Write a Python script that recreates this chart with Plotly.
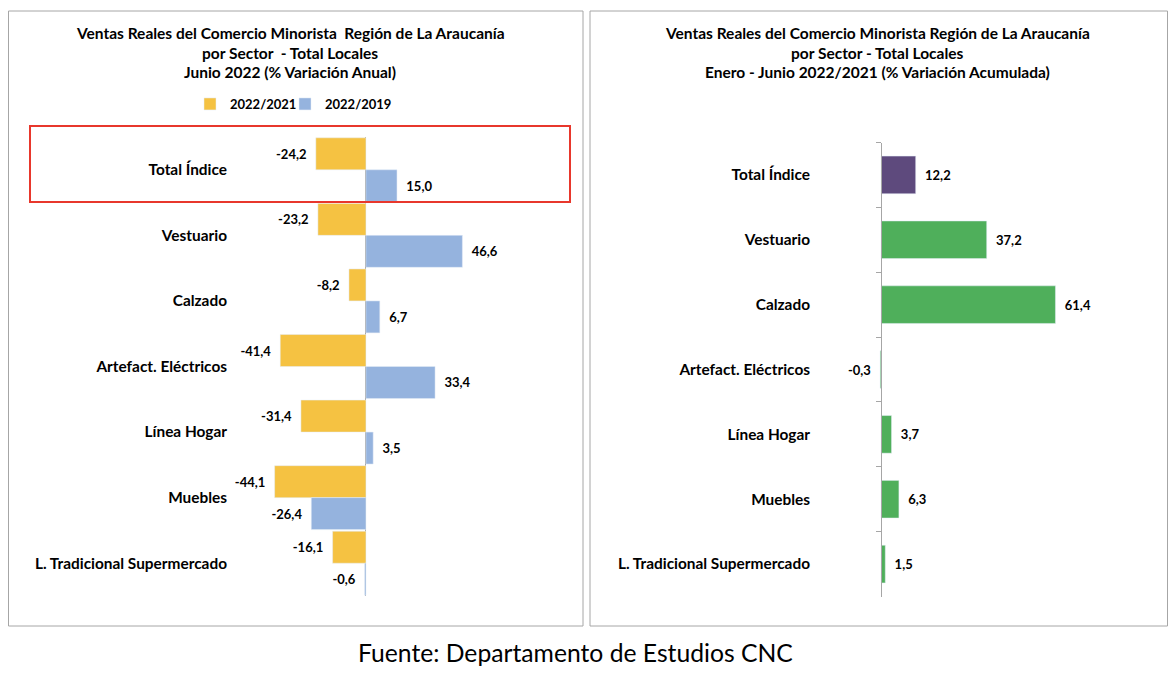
import plotly.graph_objects as go

sectores = ['Total Índice', 'Vestuario', 'Calzado', 'Artefact. Eléctricos',
            'Línea Hogar', 'Muebles', 'L. Tradicional Supermercado']

var_2022_2021 = [-24.2, -23.2, -8.2, -41.4, -31.4, -44.1, -16.1]
var_2022_2019 = [15.0, 46.6, 6.7, 33.4, 3.5, -26.4, -0.6]
acumulada = [12.2, 37.2, 61.4, -0.3, 3.7, 6.3, 1.5]
colores_acum = ['#5E4A7D'] + ['#4FAF5B'] * 6

titulo_izq = ['Ventas Reales del Comercio Minorista  Región de La Araucanía',
              'por Sector  - Total Locales',
              'Junio 2022 (% Variación Anual)']
titulo_der = ['Ventas Reales del Comercio Minorista Región de La Araucanía',
              'por Sector - Total Locales',
              'Enero - Junio 2022/2021 (% Variación Acumulada)']
fuente = 'Fuente: Departamento de Estudios CNC'

FONT = 'Lato'
# the page body has an 8px margin, so the figure is 16px smaller than the window
OFF = 8
W, H = 1176 - 2 * OFF, 682 - 2 * OFF


def fx(px):
    return (px - OFF) / W


def fy(py):
    return 1 - (py - OFF) / H


lbl_font = dict(family=FONT, size=13, color='black')
pad = '\u00a0\u00a0'
tmpl = '<b>' + pad + '%{x:.1f}' + pad + '</b>'

fig = go.Figure()

fig.add_trace(go.Bar(
    y=sectores, x=var_2022_2021, orientation='h', name='<b>2022/2021</b>',
    marker_color='#F5C242', texttemplate=tmpl, textposition='outside',
    textfont=lbl_font, cliponaxis=False, xaxis='x', yaxis='y', legend='legend'))
fig.add_trace(go.Bar(
    y=sectores, x=var_2022_2019, orientation='h', name='<b>2022/2019</b>',
    marker_color='#95B3DE', texttemplate=tmpl, textposition='outside',
    textfont=lbl_font, cliponaxis=False, xaxis='x', yaxis='y', legend='legend2'))

fig.add_trace(go.Bar(
    y=sectores, x=acumulada, orientation='h', width=0.58, showlegend=False,
    marker_color=colores_acum, texttemplate=tmpl, textposition='outside',
    textfont=lbl_font, cliponaxis=False, xaxis='x2', yaxis='y2'))

# dummy trace so the zero axis with boundary ticks gets drawn on the right chart
fig.add_trace(go.Scatter(
    y=sectores, x=[0] * len(sectores), mode='markers', marker_opacity=0,
    hoverinfo='skip', showlegend=False, xaxis='x2', yaxis='y3'))

cat_axis = dict(type='category', categoryorder='array', categoryarray=sectores,
                range=[6.5, -0.5], showgrid=False, showline=False, ticks='',
                tickfont=dict(family=FONT, size=15.4, color='black', weight='bold'))

leg = dict(orientation='h', xanchor='left', y=fy(104), yanchor='middle',
           font=dict(family=FONT, size=13, color='black'),
           itemwidth=30, bgcolor='rgba(0,0,0,0)')

fig.update_layout(
    width=W, height=H,
    margin=dict(l=0, r=0, t=0, b=0),
    paper_bgcolor='white', plot_bgcolor='white',
    separators=',.',
    barmode='group', bargap=0.025, bargroupgap=0,
    font=dict(family=FONT, color='black'),
    xaxis=dict(domain=[fx(232), fx(575)], range=[-64.7, 101.0],
               showgrid=False, showticklabels=False, ticks='', showline=False,
               zeroline=True, zerolinecolor='#A6A6A6', zerolinewidth=1),
    yaxis=dict(domain=[fy(596), fy(137)], anchor='x',
               ticklabelstandoff=4, **cat_axis),
    xaxis2=dict(domain=[fx(815), fx(1162)], range=[-23.24, 98.9], anchor='y2',
                showgrid=False, showticklabels=False, ticks='', showline=False,
                zeroline=False),
    yaxis2=dict(domain=[fy(596.5), fy(142.5)], anchor='x2',
                ticklabelstandoff=4, **cat_axis),
    yaxis3=dict(type='category', categoryorder='array', categoryarray=sectores,
                range=[6.5, -0.5], overlaying='y2', anchor='free',
                position=fx(881), side='left', showgrid=False,
                showline=True, linecolor='#A6A6A6', linewidth=1,
                ticks='outside', tickson='boundaries', ticklen=5, tickwidth=1,
                tickcolor='#A6A6A6', showticklabels=False),
    legend=dict(x=fx(190), **leg),
    legend2=dict(x=fx(285), **leg),
)

# panel frames and highlight box
shapes = [
    dict(type='rect', xref='paper', yref='paper', x0=fx(8.5), x1=fx(583),
         y0=fy(626), y1=fy(11), line=dict(color='#A6A6A6', width=1)),
    dict(type='rect', xref='paper', yref='paper', x0=fx(590), x1=fx(1167.5),
         y0=fy(626), y1=fy(11), line=dict(color='#A6A6A6', width=1)),
    dict(type='rect', xref='paper', yref='paper', x0=fx(30), x1=fx(570),
         y0=fy(202), y1=fy(126), line=dict(color='#E8372C', width=2)),
]
fig.update_layout(shapes=shapes)

anns = []
for cx, lineas in ((290, titulo_izq), (877, titulo_der)):
    for i, linea in enumerate(lineas):
        anns.append(dict(text='<b>' + linea + '</b>', x=fx(cx), y=fy(33 + 19.5 * i),
                         xref='paper', yref='paper', showarrow=False, xanchor='center',
                         yanchor='middle', font=dict(family=FONT, size=15.5, color='black')))
anns.append(dict(text=fuente, x=fx(575), y=fy(652), xref='paper', yref='paper',
                 showarrow=False, xanchor='center', yanchor='middle',
                 font=dict(family=FONT, size=24.7, color='black')))
fig.update_layout(annotations=anns)

fig.write_html('out.html')
